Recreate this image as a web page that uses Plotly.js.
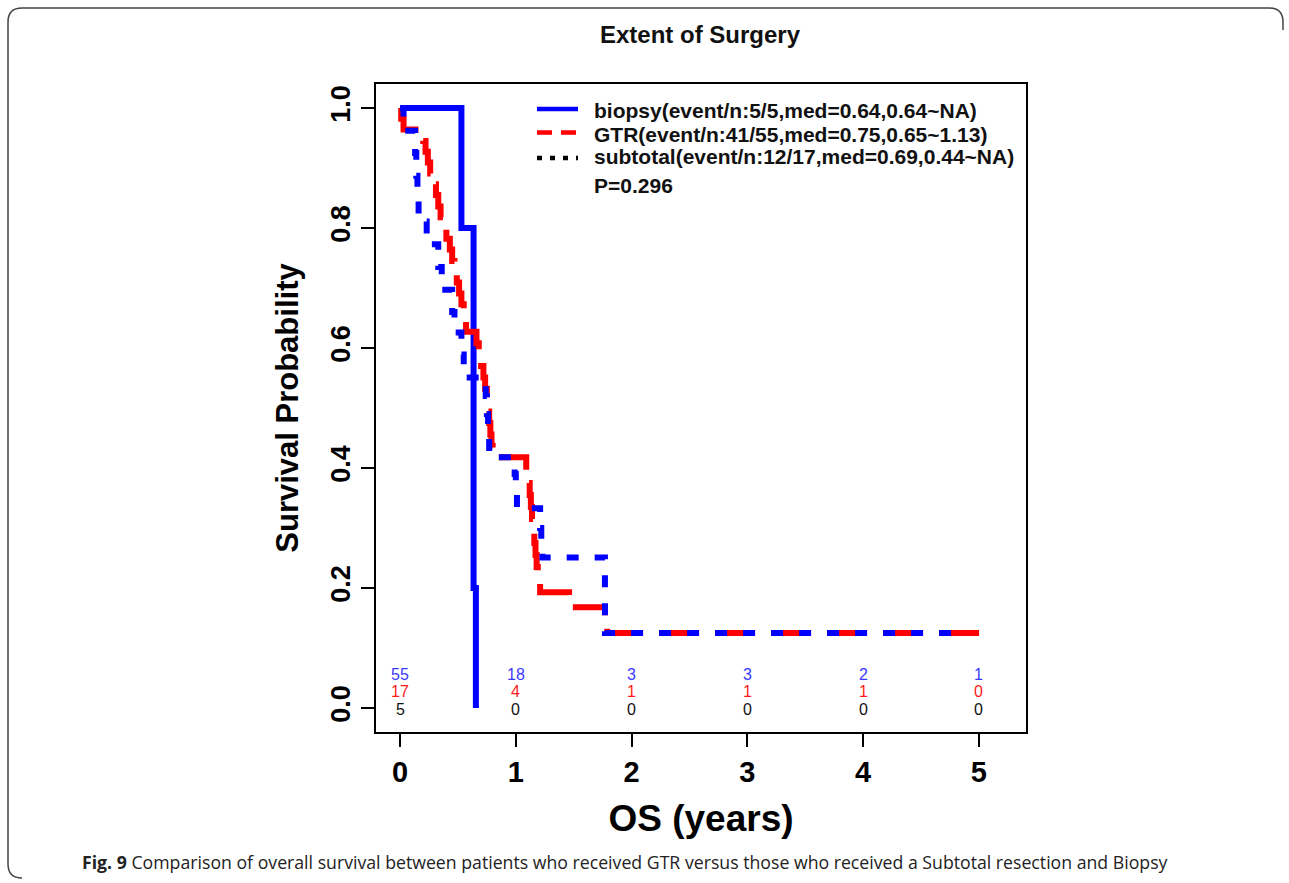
<!DOCTYPE html>
<html><head><meta charset="utf-8">
<script src="https://cdn.plot.ly/plotly-3.0.1.min.js"></script>
<style>html,body{margin:0;padding:0;background:#fff;}#chart{width:1289px;height:883px;}</style>
</head><body><div id="chart"></div>
<script>
// ---- data ----
const biopsyTime = [0, 0.53, 0.635, 0.655];
const biopsySurv = [1, 0.8, 0.2, 0];

const gtrTime = [0, 0.01, 0.03, 0.20, 0.22, 0.24, 0.26, 0.29, 0.31, 0.33, 0.35, 0.37, 0.40, 0.43, 0.45, 0.47, 0.49, 0.51, 0.53, 0.55, 0.57, 0.66, 0.68, 0.70, 0.72, 0.735, 0.75, 0.76, 0.77, 0.78, 0.79, 0.80, 1.09, 1.10, 1.12, 1.13, 1.14, 1.15, 1.16, 1.17, 1.18, 1.19, 1.21, 1.46, 1.77, 1.79, 5.07];
const gtrSurv = [1, 0.982, 0.964, 0.945, 0.927, 0.909, 0.891, 0.873, 0.855, 0.836, 0.818, 0.800, 0.782, 0.764, 0.745, 0.727, 0.709, 0.691, 0.673, 0.655, 0.627, 0.608, 0.589, 0.570, 0.551, 0.532, 0.513, 0.494, 0.475, 0.456, 0.437, 0.418, 0.395, 0.375, 0.355, 0.335, 0.315, 0.295, 0.275, 0.255, 0.235, 0.215, 0.193, 0.168, 0.146, 0.125, 0.125];

const subTime = [0, 0.03, 0.13, 0.14, 0.15, 0.16, 0.23, 0.33, 0.36, 0.45, 0.47, 0.53, 0.55, 0.74, 0.75, 0.76, 0.77, 0.99, 1.00, 1.01, 1.21, 1.22, 1.23, 1.77, 4.88];
const subSurv = [1, 0.962, 0.925, 0.887, 0.849, 0.811, 0.773, 0.735, 0.697, 0.660, 0.626, 0.589, 0.551, 0.520, 0.490, 0.455, 0.418, 0.390, 0.362, 0.333, 0.300, 0.275, 0.251, 0.125, 0.125];

const riskTimes = [0, 1, 2, 3, 4, 5];
const riskBlue  = [55, 18, 3, 3, 2, 1];
const riskRed   = [17, 4, 1, 1, 1, 0];
const riskBlack = [5, 0, 0, 0, 0, 0];
const riskRowY  = [0.056, 0.027, -0.002];

const legendLabels = [
  'biopsy(event/n:5/5,med=0.64,0.64~NA)',
  'GTR(event/n:41/55,med=0.75,0.65~1.13)',
  'subtotal(event/n:12/17,med=0.69,0.44~NA)'
];
const pLabel = 'P=0.296';
const xTicks = [0, 1, 2, 3, 4, 5];
const yTicks = [0, 0.2, 0.4, 0.6, 0.8, 1.0];
const yTickText = ['0.0', '0.2', '0.4', '0.6', '0.8', '1.0'];
const titleText = 'Extent of Surgery';
const xTitle = 'OS (years)';
const yTitle = 'Survival Probability';
const captionText = '<b>Fig. 9</b> Comparison of overall survival between patients who received GTR versus those who received a Subtotal resection and Biopsy';

// ---- geometry helpers ----
const W = 1289, H = 883, L = 376, R = 1026, T = 84, B = 732;
const px = x => (x - L) / (R - L);
const py = y => (B - y) / (B - T);
const FONT = 'Liberation Sans, Arial, Helvetica, sans-serif';

const traces = [
  {x: biopsyTime, y: biopsySurv, mode: 'lines', line: {shape: 'hv', color: '#0000FF', width: 6}, showlegend: false, hoverinfo: 'skip'},
  {x: gtrTime, y: gtrSurv, mode: 'lines', line: {shape: 'hv', color: '#FF0000', width: 6, dash: '40px,16px'}, showlegend: false, hoverinfo: 'skip'},
  {x: subTime, y: subSurv, mode: 'lines', line: {shape: 'hv', color: '#0000FF', width: 6, dash: '12px,16px'}, showlegend: false, hoverinfo: 'skip'}
];

const annotations = [];
const riskRows = [[riskBlue, '#3a3aff'], [riskRed, '#ff1a1a'], [riskBlack, '#111111']];
riskRows.forEach((row, i) => {
  row[0].forEach((v, j) => {
    annotations.push({x: riskTimes[j], y: riskRowY[i], xref: 'x', yref: 'y', text: String(v), showarrow: false,
      xanchor: 'center', yanchor: 'middle', font: {family: FONT, size: 16, color: row[1]}});
  });
});
const legRowY = [111, 134, 157];
legendLabels.forEach((lab, i) => {
  annotations.push({x: px(592), y: py(legRowY[i]), xref: 'paper', yref: 'paper', text: lab, showarrow: false,
    xanchor: 'left', yanchor: 'middle', font: {family: FONT, size: 21, color: '#111', weight: 'bold'}});
});
annotations.push({x: px(592), y: py(185), xref: 'paper', yref: 'paper', text: pLabel, showarrow: false,
  xanchor: 'left', yanchor: 'middle', font: {family: FONT, size: 21, color: '#111', weight: 'bold'}});
annotations.push({x: px(80), y: py(862), xref: 'paper', yref: 'paper', text: captionText, showarrow: false,
  xanchor: 'left', yanchor: 'middle', font: {family: 'Open Sans, Noto Sans, sans-serif', size: 17.7, color: '#222'}});

const legStyles = [
  {color: '#0000FF', dash: 'solid'},
  {color: '#FF0000', dash: '15px,9px'},
  {color: '#000000', dash: '5px,8px'}
];
const shapes = [];
const legLineY = [109, 132.5, 158];
legStyles.forEach((s, i) => {
  shapes.push({type: 'line', xref: 'paper', yref: 'paper', x0: px(537), x1: px(578), y0: py(legLineY[i]), y1: py(legLineY[i]),
    line: {color: s.color, width: 4.5, dash: s.dash}});
});
// outer rounded frame of the figure panel (top, left and top-right corner visible)
const fr = {l: 8, t: 8, r: 1283, b: 878, rad: 14};
const fp = (x, y) => px(x) + ',' + py(y);
shapes.push({type: 'path', xref: 'paper', yref: 'paper',
  path: 'M' + fp(fr.l + fr.rad, fr.b) + ' Q' + fp(fr.l, fr.b) + ' ' + fp(fr.l, fr.b - fr.rad) +
        ' L' + fp(fr.l, fr.t + fr.rad) + ' Q' + fp(fr.l, fr.t) + ' ' + fp(fr.l + fr.rad, fr.t) +
        ' L' + fp(fr.r - fr.rad, fr.t) + ' Q' + fp(fr.r, fr.t) + ' ' + fp(fr.r, fr.t + fr.rad) + ' L' + fp(fr.r, fr.t + 22),
  line: {color: '#444', width: 1.5}});

const layout = {
  width: W, height: H,
  margin: {l: L, r: W - R, t: T, b: H - B, pad: 0},
  paper_bgcolor: '#fff', plot_bgcolor: '#fff',
  showlegend: false,
  title: {text: titleText, x: 700 / W, xanchor: 'center', y: 1 - 35 / H, yanchor: 'middle',
    font: {family: FONT, size: 24, color: '#111', weight: 'bold'}},
  xaxis: {range: [-0.208, 5.408], tickvals: xTicks, ticks: 'outside', ticklen: 13, tickwidth: 2, tickcolor: '#000',
    showline: true, mirror: true, linewidth: 2, linecolor: '#000', showgrid: false, zeroline: false,
    tickfont: {family: FONT, size: 29, color: '#000', weight: 'bold'},
    title: {text: xTitle, standoff: 18, font: {family: FONT, size: 37, color: '#000', weight: 'bold'}}},
  yaxis: {range: [-0.04, 1.04], tickvals: yTicks, ticktext: yTickText, tickangle: -90, ticks: 'outside', ticklen: 13, tickwidth: 2, tickcolor: '#000',
    showline: true, mirror: true, linewidth: 2, linecolor: '#000', showgrid: false, zeroline: false,
    tickfont: {family: FONT, size: 27, color: '#000', weight: 'bold'},
    title: {text: yTitle, standoff: 18, font: {family: FONT, size: 31, color: '#000', weight: 'bold'}}},
  annotations: annotations,
  shapes: shapes
};

Plotly.newPlot('chart', traces, layout, {displayModeBar: false, staticPlot: true});
</script>
</body></html>
